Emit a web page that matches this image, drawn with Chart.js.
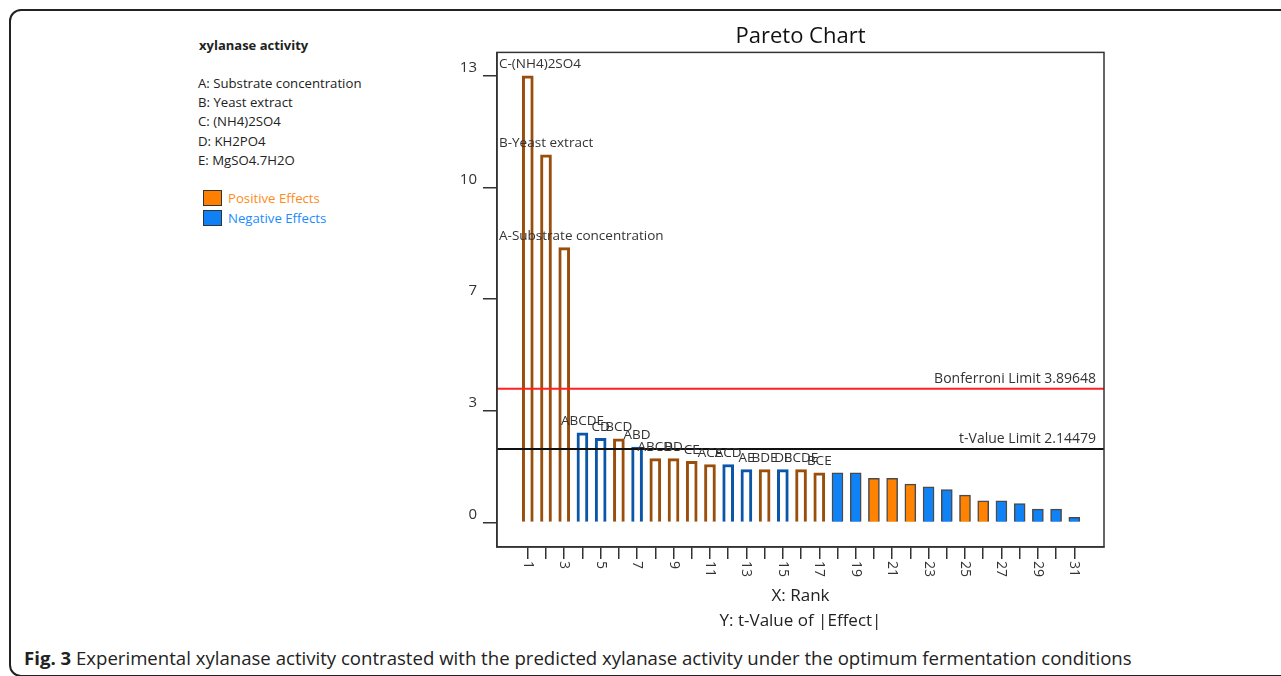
<!DOCTYPE html>
<html>
<head>
<meta charset="utf-8">
<script src="https://cdn.jsdelivr.net/npm/chart.js@4.4.1/dist/chart.umd.min.js"></script>
<style>
html,body{margin:0;padding:0;background:#fff;}
body{width:1281px;height:676px;position:relative;overflow:hidden;font-family:"Open Sans",sans-serif;color:#222;}
#frame{position:absolute;left:9px;top:9px;width:1300px;height:668px;border:2px solid #222;border-radius:12px;box-sizing:border-box;}
#myChart{position:absolute;left:0;top:0;}
.t{position:absolute;white-space:nowrap;line-height:20px;font-size:13.2px;color:#222;}
.sw{position:absolute;width:19px;height:16px;border:1.5px solid #333;box-sizing:border-box;}
#caption{position:absolute;left:24px;white-space:nowrap;line-height:24px;color:#222;}
</style>
</head>
<body>
<div id="frame"></div>
<div class="t" style="left:199px;top:35px;font-weight:bold;font-size:13px;">xylanase activity</div>
<div class="t" style="left:198px;top:73px;">A: Substrate concentration</div>
<div class="t" style="left:198px;top:92px;">B: Yeast extract</div>
<div class="t" style="left:198px;top:111px;">C: (NH4)2SO4</div>
<div class="t" style="left:198px;top:131px;">D: KH2PO4</div>
<div class="t" style="left:198px;top:150px;">E: MgSO4.7H2O</div>
<div class="sw" style="left:203px;top:190px;background:#ff8000;"></div>
<div class="sw" style="left:203px;top:210px;background:#0f80f5;"></div>
<div class="t" style="left:228px;top:188px;color:#ff8c1a;">Positive Effects</div>
<div class="t" style="left:228px;top:208px;color:#1a8cff;">Negative Effects</div>
<div id="caption"><b>Fig. 3</b> Experimental xylanase activity contrasted with the predicted xylanase activity under the optimum fermentation conditions</div>
<canvas id="myChart" width="1281" height="676"></canvas>
<script>
var ranks = [1,2,3,4,5,6,7,8,9,10,11,12,13,14,15,16,17,18,19,20,21,22,23,24,25,26,27,28,29,30,31];
var tValues = [13.0,10.70,8.0,2.61,2.45,2.44,2.20,1.86,1.86,1.78,1.69,1.69,1.54,1.54,1.54,1.54,
               1.45,1.45,1.45,1.29,1.29,1.12,1.04,0.96,0.80,0.63,0.63,0.55,0.39,0.39,0.15];
var signs = ['+','+','+','-','-','+','-','+','+','+','+','-','-','+','-','+',
             '+','-','-','+','+','+','-','-','+','+','-','-','-','-','-'];
var effectNames = ['C-(NH4)2SO4','B-Yeast extract','A-Substrate concentration','ABCDE','CD','BCD','ABD',
                   'ABCD','BD','CE','ACE','ACD','AE','BDE','DE','BCDE','BCE'];
var yTickValues = [0,3.25,6.5,9.75,13];
var yTickLabels = ['0','3','7','10','13'];
var bonferroniLimit = 3.89648;
var tValueLimit = 2.14479;

// caption: fit to the width it has in the figure
var cap = document.getElementById("caption");
var fs = 20;
cap.style.fontSize = fs + "px";
fs = fs * 1108 / cap.offsetWidth;
cap.style.fontSize = fs + "px";
cap.style.top = (665 - 12 - 0.388 * fs) + "px";

var hollow = function(i){ return i < effectNames.length; };

var ctx = document.getElementById("myChart").getContext("2d");

var overlay = {
  id: "overlay",
  afterDatasetsDraw: function(chart){
    var c = chart.ctx, a = chart.chartArea;
    var xs = chart.scales.x, ys = chart.scales.y;
    c.save();
    // reference lines
    var yb = ys.getPixelForValue(bonferroniLimit);
    var yt = ys.getPixelForValue(tValueLimit);
    c.lineWidth = 2;
    c.strokeStyle = "#ff2020";
    c.beginPath(); c.moveTo(a.left, yb); c.lineTo(a.right, yb); c.stroke();
    c.strokeStyle = "#111";
    c.beginPath(); c.moveTo(a.left, yt); c.lineTo(a.right, yt); c.stroke();
    c.font = "14px 'Open Sans'";
    c.fillStyle = "#333";
    c.textAlign = "right";
    c.textBaseline = "middle";
    c.fillText("Bonferroni Limit " + bonferroniLimit, a.right - 8, yb - 10);
    c.fillText("t-Value Limit " + tValueLimit, a.right - 8, yt - 10);
    // effect names
    c.font = "13.5px 'Open Sans'";
    for (var i = 0; i < effectNames.length; i++) {
      var bx = xs.getPixelForValue(ranks[i]);
      var by = ys.getPixelForValue(tValues[i]) - 11.5;
      if (i < 3) { c.textAlign = "left"; c.fillText(effectNames[i], a.left + 2, by); }
      else { c.textAlign = "center"; c.fillText(effectNames[i], bx, by); }
    }
    // box
    c.lineWidth = 1.5;
    c.strokeStyle = "#333";
    c.strokeRect(a.left, a.top, a.right - a.left, a.bottom - a.top);
    // x tick labels, odd ranks, turned clockwise
    c.font = "14px 'Open Sans'";
    c.textAlign = "left";
    for (var j = 0; j < ranks.length; j++) {
      if (ranks[j] % 2 == 0) continue;
      c.save();
      c.translate(xs.getPixelForValue(ranks[j]), a.bottom + 14);
      c.rotate(Math.PI / 2);
      c.fillText(String(ranks[j]), 0, 0);
      c.restore();
    }
    c.restore();
  }
};

new Chart(ctx, {
  type: "bar",
  data: {
    datasets: [{
      data: ranks.map(function(r, i){ return {x: r, y: tValues[i]}; }),
      backgroundColor: ranks.map(function(r, i){
        if (hollow(i)) return "#ffffff";
        return signs[i] == '+' ? "#ff8300" : "#0f82f5";
      }),
      borderColor: ranks.map(function(r, i){
        if (hollow(i)) return signs[i] == '+' ? "#9a4e0c" : "#0c56a8";
        return "#4a4a4a";
      }),
      borderWidth: ranks.map(function(r, i){ return hollow(i) ? 3 : 1.5; }),
      barThickness: 11
    }]
  },
  plugins: [overlay],
  options: {
    responsive: false,
    animation: false,
    devicePixelRatio: 1,
    layout: { padding: { left: 440, right: 177, top: 0, bottom: 0 } },
    plugins: {
      legend: { display: false },
      tooltip: { enabled: false },
      title: {
        display: true,
        fullSize: false,
        text: "Pareto Chart",
        color: "#111",
        font: { family: "'Open Sans'", size: 22, weight: "normal" },
        padding: { top: 24, bottom: 2 }
      }
    },
    scales: {
      x: {
        type: "linear",
        min: -0.69,
        max: 32.63,
        offset: false,
        afterBuildTicks: function(s){ s.ticks = ranks.map(function(v){ return {value: v}; }); },
        afterFit: function(s){ s.height = 129; },
        ticks: { display: false },
        grid: { offset: false, drawOnChartArea: false, tickLength: 12, color: "#333", lineWidth: 1.5 },
        border: { color: "#333", width: 1.5 },
        title: {
          display: true,
          text: ["X: Rank", "Y: t-Value of |Effect|"],
          color: "#222",
          font: { family: "'Open Sans'", size: 17, lineHeight: "25px" },
          padding: { top: 0, bottom: 42 }
        }
      },
      y: {
        type: "linear",
        min: -0.71,
        max: 13.68,
        afterBuildTicks: function(s){ s.ticks = yTickValues.map(function(v){ return {value: v}; }); },
        afterFit: function(s){ s.width = 57; },
        ticks: {
          padding: 6,
          labelOffset: -8,
          color: "#333",
          font: { family: "'Open Sans'", size: 15 },
          callback: function(v, i){ return yTickLabels[i]; }
        },
        grid: { drawOnChartArea: false, tickLength: 14, color: "#333", lineWidth: 1.5 },
        border: { color: "#333", width: 1.5 }
      }
    }
  }
});
</script>
</body>
</html>
